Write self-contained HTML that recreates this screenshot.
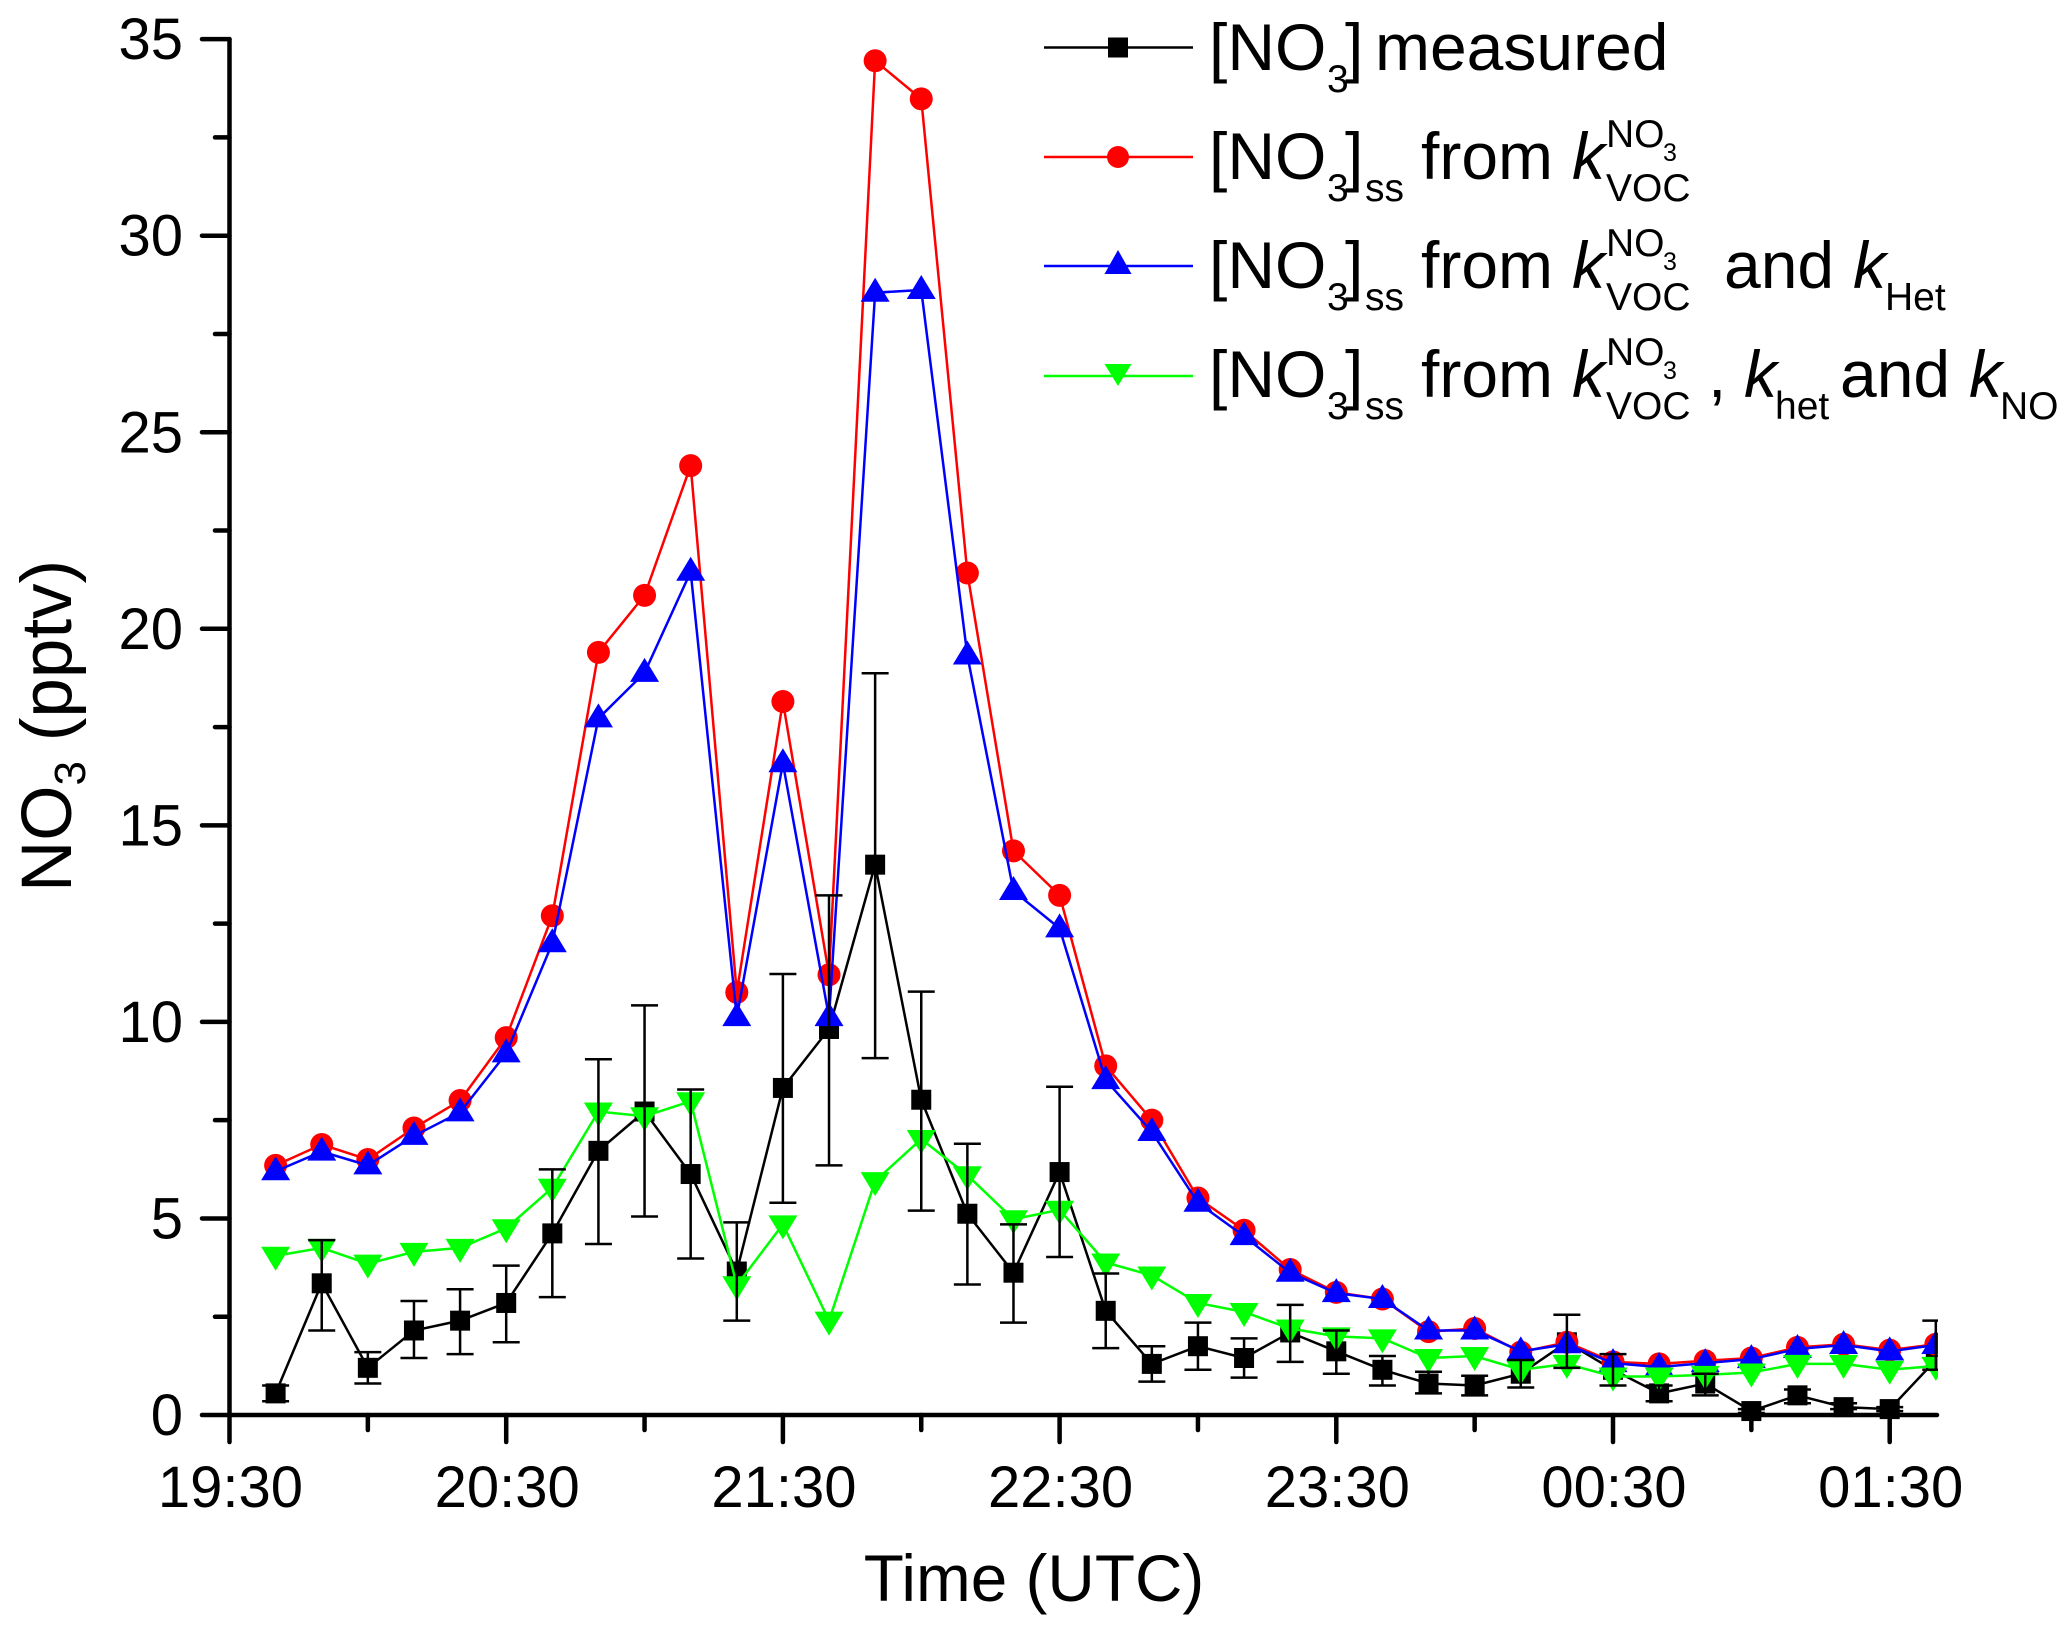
<!DOCTYPE html>
<html lang="en">
<head>
<meta charset="utf-8">
<title>NO3 measured and steady state</title>
<style>
html,body{margin:0;padding:0;background:#fff;}
svg{display:block;}
text{font-family:"Liberation Sans",sans-serif;fill:#000;}
.lg{font-size:66px;}
.sb{font-size:39px;}
.s2{font-size:25px;}
.it{font-style:italic;}
</style>
</head>
<body>
<svg id="chart" xmlns="http://www.w3.org/2000/svg" width="2067" height="1635" viewBox="0 0 2067 1635">
<defs><clipPath id="plot-clip"><rect x="229" y="0" width="1709" height="1440"/></clipPath></defs>
<g id="series-layer" clip-path="url(#plot-clip)"></g>
<g id="axis-layer"></g>
<text x="1034" y="1601" text-anchor="middle" font-size="65.7">Time (UTC)</text>
<text transform="translate(71,892) rotate(-90)" font-size="71">NO<tspan font-size="44" dy="14">3</tspan><tspan dy="-14"> (pptv)</tspan></text>

<g>
<g>
<line x1="1044" x2="1193" y1="47.5" y2="47.5" stroke="#000" stroke-width="2.5"/>
<rect x="1108" y="37.5" width="20" height="20" fill="#000"/>
<text class="lg" x="1209" y="70">[NO</text>
<text class="sb" x="1327" y="92">3</text>
<text class="lg" x="1345" y="70">]</text>
<text class="lg" x="1375" y="70">measured</text>
</g>
<g>
<line x1="1044" x2="1193" y1="157" y2="157" stroke="#f00" stroke-width="2.5"/>
<circle cx="1118" cy="157" r="11" fill="#f00"/>
<text class="lg" x="1209" y="179">[NO</text>
<text class="sb" x="1327" y="201">3</text>
<text class="lg" x="1345" y="179">]</text>
<text class="sb" x="1365" y="201">ss</text>
<text class="lg" x="1421" y="179">from</text>
<text class="lg it" x="1572" y="179">k</text>
<text class="sb" x="1606" y="147">NO</text>
<text class="s2" x="1663" y="161">3</text>
<text class="sb" x="1606" y="201">VOC</text>
</g>
<g>
<line x1="1044" x2="1193" y1="266" y2="266" stroke="#00f" stroke-width="2.5"/>
<polygon points="1118,250 1131.5,274 1104.5,274" fill="#00f"/>
<text class="lg" x="1209" y="288">[NO</text>
<text class="sb" x="1327" y="310">3</text>
<text class="lg" x="1345" y="288">]</text>
<text class="sb" x="1365" y="310">ss</text>
<text class="lg" x="1421" y="288">from</text>
<text class="lg it" x="1572" y="288">k</text>
<text class="sb" x="1606" y="256">NO</text>
<text class="s2" x="1663" y="270">3</text>
<text class="sb" x="1606" y="310">VOC</text>
<text class="lg" x="1724" y="288">and</text>
<text class="lg it" x="1853" y="288">k</text>
<text class="sb" x="1885" y="310">Het</text>
</g>
<g>
<line x1="1044" x2="1193" y1="376" y2="376" stroke="#0f0" stroke-width="2.5"/>
<polygon points="1118,386 1131.5,364 1104.5,364" fill="#0f0"/>
<text class="lg" x="1209" y="397">[NO</text>
<text class="sb" x="1327" y="419">3</text>
<text class="lg" x="1345" y="397">]</text>
<text class="sb" x="1365" y="419">ss</text>
<text class="lg" x="1421" y="397">from</text>
<text class="lg it" x="1572" y="397">k</text>
<text class="sb" x="1606" y="365">NO</text>
<text class="s2" x="1663" y="379">3</text>
<text class="sb" x="1606" y="419">VOC</text>
<text class="lg" x="1708" y="397">,</text>
<text class="lg it" x="1744" y="397">k</text>
<text class="sb" x="1775" y="419">het</text>
<text class="lg" x="1840" y="397">and</text>
<text class="lg it" x="1969" y="397">k</text>
<text class="sb" x="2000" y="419">NO</text>
</g>
</g>
</svg>
<script>
const times = ["19:40","19:50","20:00","20:10","20:20","20:30","20:40","20:50","21:00","21:10","21:20","21:30","21:40","21:50","22:00","22:10","22:20","22:30","22:40","22:50","23:00","23:10","23:20","23:30","23:40","23:50","00:00","00:10","00:20","00:30","00:40","00:50","01:00","01:10","01:20","01:30","01:40"];
const measured = [0.55,3.35,1.2,2.15,2.4,2.85,4.62,6.72,7.72,6.13,3.65,8.32,9.82,14.0,8.02,5.12,3.62,6.18,2.65,1.3,1.75,1.45,2.1,1.62,1.15,0.8,0.75,1.05,1.85,1.15,0.55,0.8,0.1,0.5,0.2,0.15,1.4];
const measuredUpper = [0.75,4.45,1.6,2.9,3.2,3.8,6.25,9.05,10.42,8.28,4.9,11.22,13.22,18.87,10.77,6.9,4.85,8.35,3.6,1.75,2.35,1.95,2.8,2.15,1.5,1.1,1.0,1.4,2.55,1.55,0.75,1.05,0.15,0.65,0.3,0.2,2.4];
const measuredLower = [0.35,2.15,0.8,1.45,1.55,1.85,3.0,4.35,5.05,3.98,2.4,5.4,6.35,9.08,5.2,3.32,2.35,4.02,1.7,0.85,1.15,0.95,1.35,1.05,0.75,0.55,0.5,0.7,1.2,0.75,0.35,0.5,0.05,0.3,0.15,0.1,1.15];
const ssVoc = [6.35,6.88,6.5,7.3,8.0,9.6,12.7,19.4,20.85,24.15,10.75,18.15,11.2,34.45,33.48,21.42,14.35,13.22,8.88,7.5,5.52,4.7,3.7,3.12,2.95,2.12,2.2,1.6,1.85,1.35,1.3,1.38,1.45,1.72,1.8,1.65,1.8];
const ssVocHet = [6.2,6.7,6.35,7.1,7.7,9.2,12.0,17.72,18.88,21.45,10.12,16.58,10.12,28.55,28.62,19.32,13.33,12.38,8.52,7.2,5.4,4.55,3.62,3.1,2.95,2.15,2.15,1.62,1.8,1.32,1.22,1.32,1.42,1.68,1.78,1.62,1.78];
const ssVocHetNo = [4.05,4.25,3.85,4.15,4.25,4.75,5.78,7.72,7.6,7.98,3.3,4.85,2.4,5.95,7.02,6.1,4.98,5.22,3.88,3.55,2.85,2.62,2.2,2.0,1.95,1.45,1.5,1.15,1.3,0.98,0.98,1.02,1.08,1.3,1.3,1.15,1.25];
const yTickLabels = ["0","5","10","15","20","25","30","35"];
const yMinorTicks = [2.5,7.5,12.5,17.5,22.5,27.5,32.5];
const xTickLabels = ["19:30","20:30","21:30","22:30","23:30","00:30","01:30"];
const xMinorTicks = ["20:00","21:00","22:00","23:00","00:00","01:00"];

const NS = "http://www.w3.org/2000/svg";
const plotLayer = document.getElementById("series-layer");
const axisLayer = document.getElementById("axis-layer");

function minutes(label) {
  const parts = label.split(":");
  let m = Number(parts[0]) * 60 + Number(parts[1]);
  if (Number(parts[0]) < 12) m += 1440;
  return m;
}
function xScale(label) {
  return 229.5 + (minutes(label) - 1170) * (276.7 / 60);
}
function yScale(v) {
  return 1415 - v * (196.55 / 5);
}
function make(tag, parent, attrs) {
  const el = document.createElementNS(NS, tag);
  for (const k in attrs) el.setAttribute(k, attrs[k]);
  parent.appendChild(el);
  return el;
}
function drawLine(values, color) {
  const pts = values.map((v, i) => xScale(times[i]) + "," + yScale(v)).join(" ");
  const el = make("polyline", plotLayer, {points: pts, fill: "none", stroke: color, "stroke-width": 2.5, "stroke-linejoin": "miter"});
  
  
}
function drawSquare(x, y) {
  const el = make("rect", plotLayer, {x: x - 10, y: y - 10, width: 20, height: 20, fill: "#000"});
  
  
}
function drawCircle(x, y) {
  const el = make("circle", plotLayer, {cx: x, cy: y, r: 11.5, fill: "#f00"});
  
  
}
function drawUp(x, y) {
  const el = make("polygon", plotLayer, {points: x + "," + (y - 15) + " " + (x + 14.5) + "," + (y + 9) + " " + (x - 14.5) + "," + (y + 9), fill: "#00f"});
  
  
}
function drawDown(x, y) {
  const el = make("polygon", plotLayer, {points: x + "," + (y + 15) + " " + (x + 14.5) + "," + (y - 9) + " " + (x - 14.5) + "," + (y - 9), fill: "#0f0"});
  
  
}
function drawMarkers(values, fn) {
  values.forEach((v, i) => fn(xScale(times[i]), yScale(v)));
}
function drawErrorBars() {
  measured.forEach((v, i) => {
    const x = xScale(times[i]);
    const yu = yScale(measuredUpper[i]);
    const yl = yScale(measuredLower[i]);
    const p = "M" + x + " " + yu + "V" + yl + "M" + (x - 13.5) + " " + yu + "H" + (x + 13.5) + "M" + (x - 13.5) + " " + yl + "H" + (x + 13.5);
    const el = make("path", plotLayer, {d: p, fill: "none", stroke: "#000", "stroke-width": 2.5});
    
    
  });
}

drawLine(measured, "#000");
drawMarkers(measured, drawSquare);
drawLine(ssVoc, "#f00");
drawMarkers(ssVoc, drawCircle);
drawLine(ssVocHet, "#00f");
drawMarkers(ssVocHet, drawUp);
drawLine(ssVocHetNo, "#0f0");
drawMarkers(ssVocHetNo, drawDown);
drawErrorBars();

function axisStroke(d, name) {
  const el = make("path", axisLayer, {d: d, fill: "none", stroke: "#000", "stroke-width": 4.5, "stroke-linecap": "round"});
  
  
}
axisStroke("M229.5 " + yScale(35) + "V" + yScale(0) + "M229.5 " + yScale(0) + "H1937", "axis-lines");

yTickLabels.forEach((label) => {
  const y = yScale(Number(label));
  axisStroke("M202 " + y + "H229.5", "y-major-tick");
  const t = make("text", axisLayer, {x: 183, y: y + 20, "text-anchor": "end", "font-size": 58});
  t.textContent = label;
  
  
});
yMinorTicks.forEach((v) => {
  axisStroke("M215 " + yScale(v) + "H229.5", "y-minor-tick");
});
xTickLabels.forEach((label) => {
  const x = xScale(label);
  axisStroke("M" + x + " 1415V1442", "x-major-tick");
  const t = make("text", axisLayer, {x: x + 1, y: 1507, "text-anchor": "middle", "font-size": 58});
  t.textContent = label;
  
  
});
xMinorTicks.forEach((label) => {
  axisStroke("M" + xScale(label) + " 1415V1430", "x-minor-tick");
});
</script>
</body>
</html>
